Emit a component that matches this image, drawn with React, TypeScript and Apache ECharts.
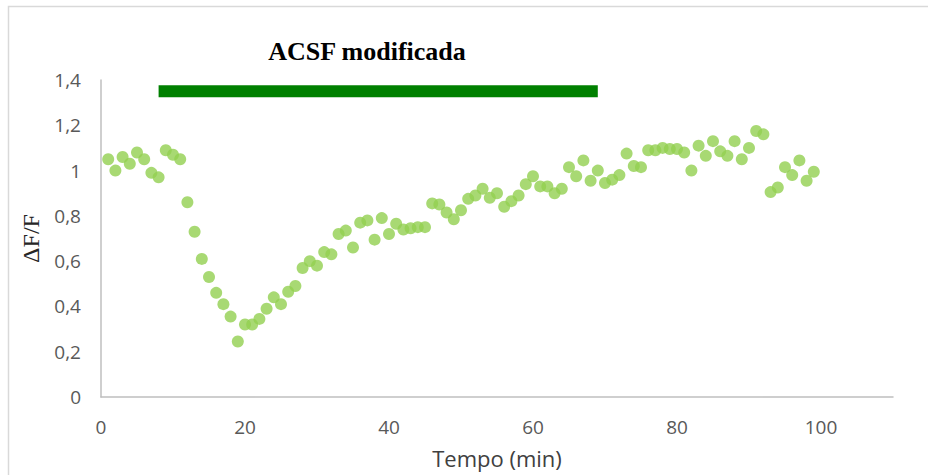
import React, { useEffect, useRef } from "react";
import * as echarts from "echarts";

const minutes: number[] = [
  1, 2, 3, 4, 5, 6, 7, 8, 9, 10, 11, 12, 13, 14, 15, 16, 17, 18, 19, 20,
  21, 22, 23, 24, 25, 26, 27, 28, 29, 30, 31, 32, 33, 34, 35, 36, 37, 38, 39, 40,
  41, 42, 43, 44, 45, 46, 47, 48, 49, 50, 51, 52, 53, 54, 55, 56, 57, 58, 59, 60,
  61, 62, 63, 64, 65, 66, 67, 68, 69, 70, 71, 72, 73, 74, 75, 76, 77, 78, 79, 80,
  81, 82, 83, 84, 85, 86, 87, 88, 89, 90, 91, 92, 93, 94, 95, 96, 97, 98, 99,
];

const deltaF: number[] = [
  1.05, 1.0, 1.06, 1.03, 1.08, 1.05, 0.99, 0.97, 1.09, 1.07,
  1.05, 0.86, 0.73, 0.61, 0.53, 0.46, 0.41, 0.355, 0.245, 0.32,
  0.32, 0.345, 0.39, 0.44, 0.41, 0.465, 0.49, 0.57, 0.6, 0.58,
  0.64, 0.63, 0.72, 0.735, 0.66, 0.77, 0.78, 0.695, 0.79, 0.72,
  0.765, 0.74, 0.745, 0.75, 0.75, 0.855, 0.85, 0.815, 0.785, 0.825,
  0.875, 0.89, 0.92, 0.88, 0.9, 0.84, 0.865, 0.89, 0.94, 0.975,
  0.93, 0.93, 0.9, 0.92, 1.015, 0.975, 1.045, 0.955, 1.0, 0.945,
  0.96, 0.98, 1.075, 1.02, 1.015, 1.09, 1.09, 1.1, 1.095, 1.095,
  1.08, 1.0, 1.11, 1.065, 1.13, 1.085, 1.065, 1.13, 1.05, 1.1,
  1.175, 1.16, 0.905, 0.925, 1.015, 0.98, 1.045, 0.955, 0.995,
];

const treatmentStart = 8;
const treatmentEnd = 69;
const treatmentLevel = 1.35;
const treatmentLabel = "ACSF modificada";

const xTitle = "Tempo (min)";
const yTitle = "ΔF/F";

export default function App() {
  const ref = useRef<HTMLDivElement>(null);

  useEffect(() => {
    if (!ref.current) return;
    const chart = echarts.init(ref.current, null, { renderer: "svg" });
    const points = minutes.map((m, i) => [m, deltaF[i]]);
    chart.setOption({
      animation: false,
      backgroundColor: "#ffffff",
      title: {
        text: treatmentLabel,
        left: 362,
        top: 33,
        textAlign: "center",
        textStyle: {
          fontFamily: "Liberation Serif",
          fontWeight: "bold",
          fontSize: 26,
          color: "#000000",
        },
      },
      graphic: [
        {
          type: "rect",
          shape: { x: 8.5, y: 6.5, width: 940, height: 500 },
          style: { fill: "none", stroke: "#d9d9d9", lineWidth: 1.5 },
          silent: true,
        },
      ],
      grid: { left: 101, right: 35, top: 80, bottom: 78 },
      xAxis: {
        type: "value",
        min: 0,
        max: 110,
        interval: 20,
        name: xTitle,
        nameLocation: "middle",
        nameGap: 50,
        nameTextStyle: { fontFamily: "Open Sans", fontSize: 22, color: "#404040" },
        axisLine: { show: true, lineStyle: { color: "#bfbfbf", width: 1.5 } },
        axisTick: { show: false },
        splitLine: { show: false },
        axisLabel: {
          showMaxLabel: false,
          margin: 20,
          fontFamily: "Open Sans",
          fontSize: 19,
          color: "#595959",
        },
      },
      yAxis: {
        type: "value",
        min: 0,
        max: 1.4,
        interval: 0.2,
        name: yTitle,
        nameLocation: "middle",
        nameGap: 56,
        nameTextStyle: { fontFamily: "Liberation Serif", fontSize: 24, color: "#262626" },
        axisLine: { show: true, lineStyle: { color: "#bfbfbf", width: 1.5 } },
        axisTick: { show: false },
        splitLine: { show: false },
        axisLabel: {
          margin: 20,
          fontFamily: "Open Sans",
          fontSize: 19,
          color: "#595959",
          formatter: (v: number) => String(Math.round(v * 10) / 10).replace(".", ","),
        },
      },
      series: [
        {
          type: "line",
          data: [
            [treatmentStart, treatmentLevel],
            [treatmentEnd, treatmentLevel],
          ],
          symbol: "none",
          lineStyle: { color: "#008000", width: 12, cap: "butt" },
          silent: true,
          z: 1,
        },
        {
          type: "scatter",
          data: points,
          symbol: "circle",
          symbolSize: 12,
          itemStyle: { color: "#92d050" },
          z: 2,
        },
      ],
    });
    return () => chart.dispose();
  }, []);

  return (
    <div
      ref={ref}
      style={{ position: "fixed", left: 0, top: 0, width: 928, height: 475 }}
    />
  );
}
